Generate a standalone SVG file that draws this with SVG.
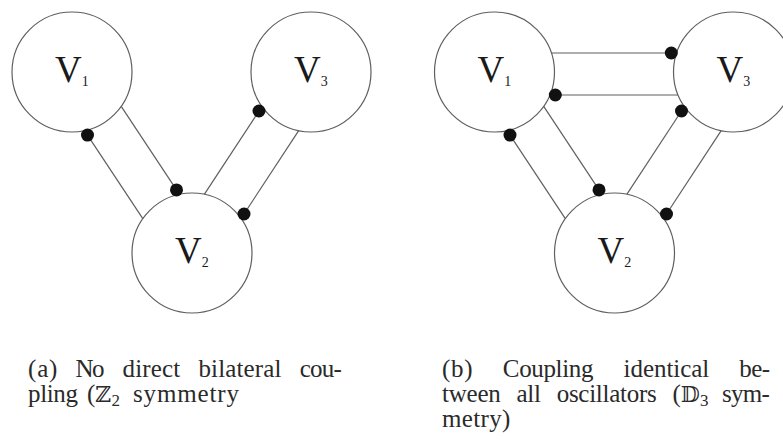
<svg xmlns="http://www.w3.org/2000/svg" width="783" height="441" viewBox="0 0 783 441">
<style>
.node circle{fill:#fff;stroke:#5f5f5f;stroke-width:1.2}
.lbl{font-family:"Liberation Serif","Times New Roman",serif;font-size:37px;fill:#1a1a1a}
.sub{font-size:14px}
.conn line{stroke:#5f5f5f;stroke-width:1.2}
.conn circle{fill:#111}
.cap{font-family:"Liberation Serif","Times New Roman",serif;font-size:25px;fill:#2a2a2a}
.bb{font-family:"DejaVu Serif","DejaVu Sans",serif;font-size:22px}
.cs{font-size:17px}
</style>
<rect width="783" height="441" fill="#fff"/>

<g id="a-V1" class="node"><circle cx="72" cy="72" r="60"/><text class="lbl" x="55" y="82">V<tspan class="sub" dy="4">1</tspan></text></g>
<g id="a-V2" class="node"><circle cx="192" cy="253" r="60"/><text class="lbl" x="175" y="263">V<tspan class="sub" dy="4">2</tspan></text></g>
<g id="a-V3" class="node"><circle cx="311" cy="72" r="60"/><text class="lbl" x="294" y="82">V<tspan class="sub" dy="4">3</tspan></text></g>

<g id="b-V1" class="node"><circle cx="494.5" cy="72" r="60"/><text class="lbl" x="477.5" y="82">V<tspan class="sub" dy="4">1</tspan></text></g>
<g id="b-V2" class="node"><circle cx="614.5" cy="253" r="60"/><text class="lbl" x="597.5" y="263">V<tspan class="sub" dy="4">2</tspan></text></g>
<g id="b-V3" class="node"><circle cx="733.5" cy="72" r="60"/><text class="lbl" x="716.5" y="82">V<tspan class="sub" dy="4">3</tspan></text></g>

<g id="connectors" class="conn">
  <line x1="142.8" y1="218.6" x2="87.5" y2="135.1"/><circle cx="87.5" cy="135.1" r="6.5"/>
  <line x1="121.2" y1="106.4" x2="176.5" y2="189.9"/><circle cx="176.5" cy="189.9" r="6.5"/>
  <line x1="204.3" y1="194.3" x2="259" y2="111"/><circle cx="259" cy="111" r="6.5"/>
  <line x1="298.7" y1="130.7" x2="244" y2="214"/><circle cx="244" cy="214" r="6.5"/>

  <line x1="565.3" y1="218.6" x2="510" y2="135.1"/><circle cx="510" cy="135.1" r="6.5"/>
  <line x1="543.7" y1="106.4" x2="599" y2="189.9"/><circle cx="599" cy="189.9" r="6.5"/>
  <line x1="626.8" y1="194.3" x2="681.5" y2="111"/><circle cx="681.5" cy="111" r="6.5"/>
  <line x1="721.2" y1="130.7" x2="666.5" y2="214"/><circle cx="666.5" cy="214" r="6.5"/>
  <line x1="551.4" y1="53" x2="671.3" y2="53"/><circle cx="671.3" cy="53" r="6.5"/>
  <line x1="678.1" y1="95" x2="555.3" y2="95"/><circle cx="555.3" cy="95" r="6.5"/>
</g>

<g id="caption-a" class="cap">
  <text x="28" y="377" textLength="29.4">(a)</text>
  <text x="75.6" y="377" textLength="28.8">No</text>
  <text x="122.6" y="377" textLength="57.6">direct</text>
  <text x="198.4" y="377" textLength="83.1">bilateral</text>
  <text x="299.7" y="377" textLength="42.2">cou-</text>
  <text x="28" y="402" textLength="50">pling</text>
  <text x="87" y="402">(<tspan class="bb">ℤ</tspan><tspan class="cs" dy="4">2</tspan></text>
  <text x="133" y="402" textLength="106">symmetry</text>
</g>

<g id="caption-b" class="cap">
  <text x="442" y="377" textLength="30.7">(b)</text>
  <text x="502.8" y="377" textLength="90.7">Coupling</text>
  <text x="623.6" y="377" textLength="85.6">identical</text>
  <text x="739.3" y="377" textLength="30.7">be-</text>
  <text x="442" y="402" textLength="58.8">tween</text>
  <text x="516.6" y="402" textLength="24.3">all</text>
  <text x="556.7" y="402" textLength="100">oscillators</text>
  <text x="672.5" y="402">(<tspan class="bb">𝔻</tspan><tspan class="cs" dy="4">3</tspan></text>
  <text x="721.9" y="402" textLength="48">sym-</text>
  <text x="442" y="427" textLength="68.4">metry)</text>
</g>
</svg>
